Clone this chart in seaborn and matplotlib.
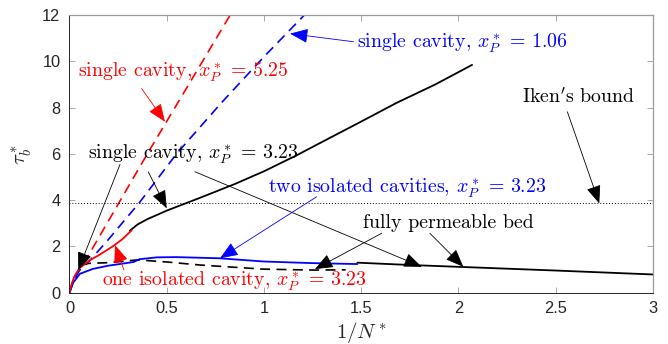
import numpy as np
import pandas as pd
import matplotlib
matplotlib.use("Agg")
import matplotlib.pyplot as plt
import seaborn as sns

# ---- curve data: inverse effective pressure 1/N* vs basal drag tau_b* ----
red_dash_x = [0.0, 0.02, 0.05, 0.10, 0.40, 0.84]
red_dash_y = [0.0, 0.55, 1.00, 1.65, 6.00, 12.2]

blue_dash_x = [0.0, 0.02, 0.05, 0.10, 0.20, 0.36, 0.55, 0.78, 1.00, 1.23]
blue_dash_y = [0.0, 0.50, 0.95, 1.35, 2.30, 3.90, 6.00, 8.20, 10.2, 12.2]

red_x = [0.0, 0.01, 0.025, 0.05, 0.10, 0.15, 0.22, 0.27, 0.32]
red_y = [0.0, 0.35, 0.70, 1.05, 1.38, 1.62, 1.99, 2.30, 2.70]

black_x = [0.31, 0.35, 0.40, 0.46, 0.50, 0.67, 0.85, 1.00, 1.17, 1.34, 1.50,
           1.68, 1.88, 2.07]
black_y = [2.68, 2.95, 3.18, 3.40, 3.55, 4.10, 4.70, 5.25, 5.95, 6.70, 7.40,
           8.20, 9.00, 9.85]

blue_x = [0.0, 0.02, 0.054, 0.12, 0.20, 0.29, 0.33, 0.36, 0.45, 0.55,
          0.77, 1.00, 1.25, 1.48]
blue_y = [0.0, 0.45, 0.82, 1.03, 1.17, 1.28, 1.33, 1.45, 1.53, 1.54,
          1.49, 1.35, 1.28, 1.24]

perm_dash_x = [0.06, 0.10, 0.20, 0.30, 0.35, 0.50, 0.67, 0.85, 1.00, 1.25, 1.42]
perm_dash_y = [1.20, 1.27, 1.30, 1.38, 1.42, 1.33, 1.20, 1.10, 1.02, 0.98, 0.99]

perm_x = [1.48, 1.75, 2.00, 2.50, 3.00]
perm_y = [1.30, 1.20, 1.12, 0.96, 0.79]

iken_bound = 3.9

x_ticks = [0, 0.5, 1, 1.5, 2, 2.5, 3]
x_tick_labels = ["0", "0.5", "1", "1.5", "2", "2.5", "3"]
y_ticks = [0, 2, 4, 6, 8, 10, 12]
y_tick_labels = ["0", "2", "4", "6", "8", "10", "12"]

sns.set_style("ticks")
plt.rcParams["mathtext.fontset"] = "cm"
plt.rcParams["font.family"] = ["Liberation Sans", "DejaVu Sans"]

fig = plt.figure(figsize=(6.68, 3.44), dpi=100)
ax = fig.add_axes([0.104, 0.149, 0.8735, 0.807])

BLUE = "#0000ff"
RED = "#ff0000"

def curve(x, y, color, ls, lw):
    df = pd.DataFrame({"x": x, "y": y})
    sns.lineplot(data=df, x="x", y="y", ax=ax, color=color, lw=lw,
                 linestyle=ls, sort=False, estimator=None)

dash = (0, (6, 3.8))
curve(red_dash_x, red_dash_y, RED, dash, 1.2)
curve(blue_dash_x, blue_dash_y, BLUE, dash, 1.2)
curve(perm_dash_x, perm_dash_y, "black", dash, 1.2)
curve(blue_x, blue_y, BLUE, "-", 1.3)
curve(black_x, black_y, "black", "-", 1.3)
curve(red_x, red_y, RED, "-", 1.3)
curve(perm_x, perm_y, "black", "-", 1.3)

ax.axhline(iken_bound, color="black", lw=0.7, ls=(0, (1, 2)))

ax.set_xlim(0, 3)
ax.set_ylim(0, 12)
ax.set_xticks(x_ticks, x_tick_labels)
ax.set_yticks(y_ticks, y_tick_labels)
ax.tick_params(direction="in", length=4.5, width=0.6, colors="#9a9a9a",
               labelcolor="#262626", labelsize=11.8, top=True, right=True)
ax.tick_params(axis="y", pad=6.5)
ax.tick_params(axis="x", pad=6.0)
for side in ["left", "bottom"]:
    ax.spines[side].set_color("#262626")
    ax.spines[side].set_linewidth(0.7)
for side in ["top", "right"]:
    ax.spines[side].set_color("#9a9a9a")
    ax.spines[side].set_linewidth(0.9)

ax.set_xlabel(r"$1/N^*$", fontsize=15, labelpad=3)
ax.set_ylabel(r"$\tau_b^*$", fontsize=15, labelpad=6)

TXT = dict(fontfamily="cmr10", fontsize=14.3)

def label(x, y, s, color):
    ax.text(x, y, s, color=color, ha="center", va="center", **TXT)

def arrow(tail, head, color, lw=0.6):
    ax.annotate("", xy=head, xytext=tail,
                arrowprops=dict(arrowstyle="-|>,head_length=0.75,head_width=0.3",
                                color=color, lw=lw, mutation_scale=15,
                                shrinkA=0, shrinkB=0))

label(0.584, 9.55, r"single cavity, $x_P^*\,=\,5.25$", RED)
arrow((0.371, 8.83), (0.491, 7.39), RED)

label(2.02, 10.78, r"single cavity, $x_P^*\,=\,1.06$", BLUE)
arrow((1.46, 10.85), (1.134, 11.2), BLUE)

label(0.635, 6.0, r"single cavity, $x_P^*\,=\,3.23$", "black")
arrow((0.26, 5.55), (0.045, 0.98), "black")
arrow((0.405, 5.23), (0.50, 3.65), "black")
arrow((0.645, 5.23), (1.811, 1.12), "black")

label(1.738, 4.5, r"two isolated cavities, $x_P^*\,=\,3.23$", BLUE)
arrow((1.271, 4.15), (0.774, 1.49), BLUE)

label(1.948, 3.0, "fully permeable bed", "black")
arrow((1.605, 2.57), (1.262, 1.02), "black")
arrow((1.853, 2.57), (2.025, 1.12), "black")

label(2.616, 8.47, r"Iken$'$s bound", "black")
arrow((2.56, 7.82), (2.724, 3.86), "black")

label(0.847, 0.52, r"one isolated cavity, $x_P^*\,=\,3.23$", RED)
arrow((0.28, 0.98), (0.234, 2.06), RED)

fig.savefig("out.png", dpi=100)
